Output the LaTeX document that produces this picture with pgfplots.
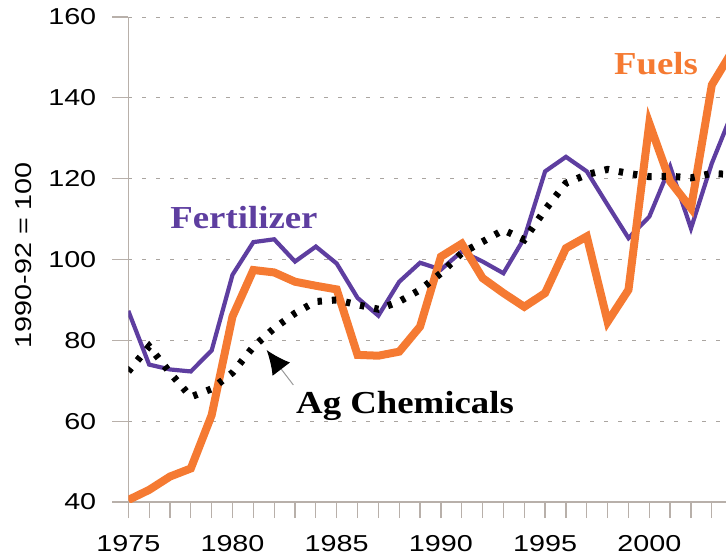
\documentclass[border=0pt]{standalone}
\usepackage{fontspec}
\usepackage{pgfplots}
\pgfplotsset{compat=1.18}
\usetikzlibrary{arrows.meta}
\setmainfont{Liberation Sans}
\newfontfamily\tickfont[FakeStretch=1.25]{Liberation Sans}
\newfontfamily\labfont[FakeStretch=1.15]{Liberation Serif}
\definecolor{fertcol}{RGB}{94,62,160}
\definecolor{fuelcol}{RGB}{245,122,50}
\definecolor{axisgray}{RGB}{184,176,170}
\definecolor{gridgray}{RGB}{170,165,160}

\begin{document}
\begin{tikzpicture}
\begin{axis}[
    scale only axis,
    width=298.85pt, height=242.5pt,
    xmin=1975, xmax=2003.68,
    ymin=40, ymax=160,
    xtick={1975,1980,1985,1990,1995,2000},
    minor xtick={1975,...,2003},
    ytick={40,60,...,160},
    axis x line*=bottom, axis y line*=left,
    axis line style={draw=axisgray, line width=0.7pt},
    tick align=outside,
    major tick length=8pt, minor tick length=8pt,
    every tick/.style={draw=axisgray, line width=0.6pt},
    ymajorgrids,
    major grid style={draw=gridgray, line width=0.5pt, dash pattern=on 2pt off 5pt},
    /pgf/number format/1000 sep={},
    /pgf/number format/assume math mode=true,
    xticklabel={\pgfmathprintnumber{\tick}},
    yticklabel={\pgfmathprintnumber{\tick}},
    tick label style={font=\fontsize{11.5}{13}\tickfont},
    xticklabel style={yshift=-5pt},
    yticklabel style={xshift=-4.5pt},
    ylabel={1990-92 = 100},
    ylabel style={font=\fontsize{11.5}{13}\tickfont, at={(axis description cs:-0.175,0.509)}, anchor=center},
]
\coordinate (O) at (rel axis cs:0,0);

\addplot[color=fertcol, line width=2.1pt, line join=miter] coordinates {
(1975,87.3) (1976,74.0) (1977,72.8) (1978,72.3) (1979,77.5) (1980,96.2)
(1981,104.3) (1982,105.0) (1983,99.5) (1984,103.2) (1985,99.0) (1986,90.5)
(1987,86.1) (1988,94.5) (1989,99.2) (1990,97.5) (1991,102.0) (1992,99.5)
(1993,96.6) (1994,105.3) (1995,121.8) (1996,125.4) (1997,121.8) (1998,113.5)
(1999,105.3) (2000,110.6) (2001,123.0) (2002,107.7) (2003,123.8) (2004,136.6)
};

\addplot[color=fuelcol, line width=4pt, line join=miter] coordinates {
(1975,40.5) (1976,43.0) (1977,46.3) (1978,48.3) (1979,61.5) (1980,85.9)
(1981,97.4) (1982,96.8) (1983,94.5) (1984,93.5) (1985,92.6) (1986,76.4)
(1987,76.2) (1988,77.2) (1989,83.4) (1990,100.7) (1991,103.9) (1992,95.4)
(1993,91.7) (1994,88.3) (1995,91.7) (1996,102.8) (1997,105.7) (1998,84.6)
(1999,92.5) (2000,133.7) (2001,119.3) (2002,112.7) (2003,143.2) (2004,151.7)
};

\addplot[color=black, line width=3.5pt, dash pattern=on 2.2pt off 5pt] coordinates {
(1975,72.3) (1976,78.5) (1977,72.0) (1978,66.0) (1979,68.0) (1980,72.0)
(1981,78.4) (1982,83.0) (1983,86.7) (1984,89.6) (1985,90.0) (1986,88.8)
(1987,87.7) (1988,89.6) (1989,92.5) (1990,96.6) (1991,101.6) (1992,104.4)
(1993,107.3) (1994,104.9) (1995,112.3) (1996,118.9) (1997,121.0) (1998,122.3)
(1999,121.3) (2000,120.5) (2001,120.6) (2002,120.2) (2003,121.3) (2004,121.0)
};

\node[font=\fontsize{16}{18}\labfont\bfseries, text=fertcol] at (axis cs:1980.55,110.3) {Fertilizer};
\node[font=\fontsize{16}{18}\labfont\bfseries, text=fuelcol] at (axis cs:2000.32,148.4) {Fuels};
\node[font=\fontsize{16}{18}\labfont\bfseries, text=black] at (axis cs:1988.28,63.8) {Ag Chemicals};
\draw[draw=gray!80, line width=0.5pt, -{Latex[length=12pt,width=11pt,color=black]}]
    (axis cs:1982.92,68.96) -- (axis cs:1981.64,77.6);
\end{axis}
\pgfresetboundingbox
\path (O) ++(-64.15pt,-28pt) rectangle ++(363pt,279pt);
\end{tikzpicture}
\end{document}
